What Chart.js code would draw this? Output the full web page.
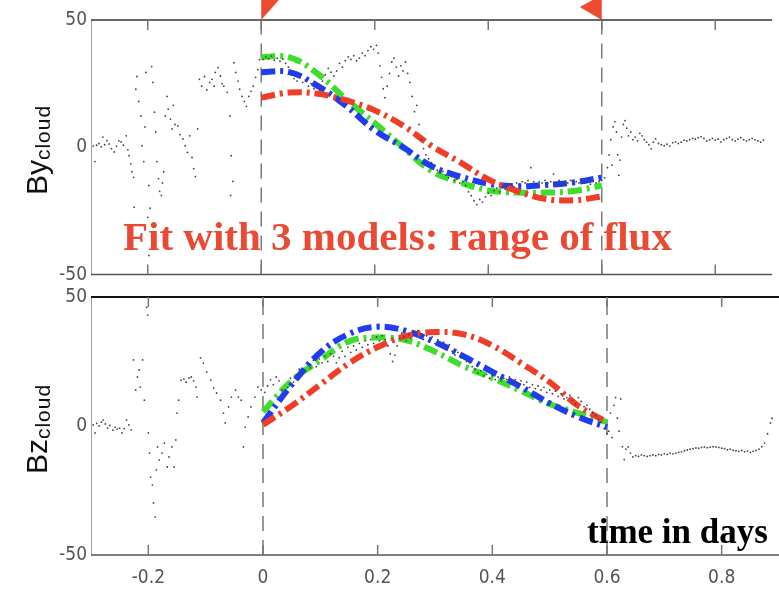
<!DOCTYPE html>
<html>
<head>
<meta charset="utf-8">
<script src="https://cdn.jsdelivr.net/npm/chart.js@4.4.1/dist/chart.umd.min.js"></script>
<style>
html,body{margin:0;padding:0;background:#fff;overflow:hidden;}
#wrap{position:relative;width:779px;height:589px;overflow:hidden;background:#fff;}
canvas{position:absolute;left:0;}
#c1{top:0;}
#c2{top:280px;}
.yt{position:absolute;transform:translate(-50%,-50%) rotate(-90deg);font-family:'Liberation Sans',Arial,sans-serif;font-size:30px;line-height:1;white-space:nowrap;color:#111;}
.yt .sub{font-size:21px;position:relative;top:3px;letter-spacing:1px;}
.note{position:absolute;font-family:'Liberation Serif','Times New Roman',serif;font-weight:bold;line-height:1;white-space:nowrap;}
#fit{left:123px;top:216px;font-size:41px;color:#ea4a33;}
#tid{left:587px;top:514px;font-size:35px;color:#000;}
</style>
</head>
<body>
<div id="wrap">
  <canvas id="c1" width="783" height="290"></canvas>
  <canvas id="c2" width="783" height="309"></canvas>
  <div class="yt" style="left:37px;top:150px">By<span class="sub">cloud</span></div>
  <div class="yt" style="left:37px;top:429px">Bz<span class="sub">cloud</span></div>
  <div class="note" id="fit">Fit with 3 models: range of flux</div>
  <div class="note" id="tid">time in days</div>
</div>
<script>
// ---------------- data ----------------
const xTicks = [-0.2, 0, 0.2, 0.4, 0.6, 0.8];
const yTicks = [-50, 0, 50];
const cloudBounds = [0, 0.6];

const modelTime    = [0, 0.05, 0.1, 0.15, 0.2, 0.25, 0.3, 0.35, 0.4, 0.45, 0.5, 0.55, 0.6];
const byModelRed   = [19.5, 21.5, 21.0, 18.4, 14.5, 8.5, 0.6, -5.8, -12.6, -17.1, -20.2, -20.8, -19.3];
const byModelBlue  = [29.5, 29.5, 24.0, 16.2, 6.7, 0.0, -7.4, -11.4, -14.3, -15.3, -14.8, -13.8, -11.9];
const byModelGreen = [35.5, 35.3, 28.8, 18.8, 9.5, 0.0, -9.3, -13.7, -16.9, -17.8, -17.8, -17.2, -15.0];
const bzModelRed   = [0.5, 7.8, 16.1, 24.3, 30.6, 34.9, 36.4, 35.5, 31.2, 24.4, 17.0, 7.8, 1.5];
const bzModelBlue  = [1.2, 16.0, 28.5, 35.7, 38.5, 36.8, 32.5, 27.0, 21.0, 15.2, 8.8, 3.5, -0.5];
const bzModelGreen = [5.5, 17.5, 25.5, 32.8, 34.3, 33.2, 28.8, 23.2, 18.6, 13.6, 8.5, 5.0, 1.5];

const byObserved = [
[-0.296,0.5],[-0.293,-5.6],[-0.290,0.8],[-0.286,1.5],[-0.282,0.2],[-0.279,4.0],[-0.276,1.0],[-0.272,2.6],[-0.268,1.3],[-0.264,-0.5],
[-0.259,-1.8],[-0.255,0.5],[-0.251,2.5],[-0.247,2.1],[-0.243,0.8],[-0.238,4.5],[-0.235,-1.0],[-0.233,-3.3],[-0.230,-6.5],[-0.228,-9.6],
[-0.225,-11.8],[-0.224,-23.5],[-0.221,22.8],[-0.219,27.8],[-0.216,18.0],[-0.212,12.3],[-0.210,0.6],[-0.207,-5.6],[-0.205,8.0],[-0.203,29.4],
[-0.200,-27.5],[-0.198,-15.0],[-0.198,-42.5],[-0.196,-23.9],[-0.193,31.7],[-0.191,25.5],[-0.188,13.8],[-0.186,6.0],[-0.184,-5.6],[-0.181,-12.3],
[-0.179,-17.3],[-0.176,-18.9],[-0.174,-14.0],[-0.172,-9.6],[-0.169,12.3],[-0.166,20.0],[-0.164,15.0],[-0.160,11.1],[-0.157,7.2],[-0.155,16.5],
[-0.152,9.0],[-0.147,8.4],[-0.143,5.0],[-0.138,3.3],[-0.134,0.6],[-0.130,-2.0],[-0.126,4.5],[-0.122,-4.0],[-0.119,-8.4],[-0.116,-11.5],
[-0.112,7.2],[-0.109,26.7],[-0.105,24.0],[-0.100,27.8],[-0.096,22.5],[-0.091,25.5],[-0.087,26.7],[-0.083,24.0],[-0.081,29.4],[-0.076,31.3],
[-0.072,28.0],[-0.069,25.0],[-0.066,24.0],[-0.060,21.6],[-0.055,12.3],[-0.054,-18.9],[-0.053,-3.3],[-0.050,-13.4],[-0.048,33.2],[-0.045,29.4],
[-0.041,26.0],[-0.038,22.8],[-0.034,20.0],[-0.030,18.0],[-0.026,16.1],[-0.022,20.0],[-0.018,22.0],[-0.014,24.0],[-0.010,27.5],[-0.006,30.5],
[-0.003,34.4],
[0.003,34.5],[0.008,35.5],[0.013,34.8],[0.018,35.8],[0.023,34.2],[0.028,35.0],[0.033,33.8],[0.038,34.6],[0.043,33.0],[0.048,31.5],
[0.053,28.5],[0.058,27.0],[0.063,26.0],[0.068,27.5],[0.073,25.5],[0.078,26.5],[0.083,24.0],[0.088,25.0],[0.093,23.0],[0.098,24.5],
[0.103,22.5],[0.108,26.0],[0.113,28.5],[0.118,31.0],[0.123,29.5],[0.128,28.0],[0.133,30.0],[0.138,33.0],[0.143,31.5],[0.148,34.0],
[0.153,35.5],[0.158,34.5],[0.163,36.0],[0.168,34.0],[0.173,35.0],[0.178,37.0],[0.183,36.0],[0.188,38.0],[0.193,39.5],[0.198,38.5],
[0.203,40.0],[0.206,37.0],[0.209,32.0],[0.212,27.5],[0.215,23.0],[0.218,19.5],[0.222,24.0],[0.226,29.0],[0.230,33.5],[0.234,35.0],
[0.238,31.5],[0.242,28.0],[0.246,32.0],[0.250,30.0],[0.254,33.5],[0.258,29.0],[0.262,25.5],[0.266,20.0],[0.270,14.0],[0.274,16.5],
[0.278,9.0],[0.282,3.0],[0.286,-0.5],[0.290,-3.0],[0.295,-4.5],[0.300,-6.0],[0.305,-7.5],[0.310,-9.0],[0.315,-10.0],[0.320,-9.5],
[0.325,-11.0],[0.330,-12.0],[0.335,-11.5],[0.340,-13.0],[0.345,-12.5],[0.350,-14.0],[0.355,-13.5],[0.360,-15.0],[0.365,-17.5],[0.370,-19.0],
[0.375,-21.0],[0.380,-22.5],[0.385,-20.5],[0.390,-21.5],[0.395,-19.5],[0.400,-18.0],[0.405,-19.0],[0.410,-17.0],[0.415,-16.0],[0.420,-17.5],
[0.425,-15.5],[0.430,-16.5],[0.435,-15.0],[0.440,-14.5],[0.445,-15.5],[0.450,-14.0],[0.455,-14.5],[0.460,-13.5],[0.465,-14.0],[0.470,-13.0],
[0.475,-8.0],[0.480,-13.5],[0.485,-14.5],[0.490,-13.5],[0.495,-14.0],[0.500,-13.0],[0.505,-14.0],[0.510,-13.5],[0.515,-10.5],[0.520,-14.0],
[0.525,-13.0],[0.530,-14.5],[0.535,-13.5],[0.540,-14.0],[0.545,-13.0],[0.550,-14.5],[0.555,-13.5],[0.560,-14.0],[0.565,-13.0],[0.570,-14.0],
[0.575,-13.5],[0.580,-14.5],[0.585,-13.0],[0.590,-14.0],[0.595,-13.5],[0.600,-13.0],
[0.605,-12.0],[0.610,-8.0],[0.613,-3.0],[0.616,3.0],[0.618,-7.0],[0.620,8.0],[0.623,10.0],[0.626,6.0],[0.628,-3.0],[0.630,-11.0],
[0.632,-5.0],[0.635,4.0],[0.638,9.0],[0.641,10.5],[0.644,7.5],[0.647,4.5],[0.651,6.0],[0.655,3.0],[0.659,4.0],[0.663,2.5],
[0.667,5.5],[0.671,4.5],[0.675,3.0],[0.679,2.0],[0.683,1.0],[0.687,-0.6],[0.691,2.0],[0.695,3.3],[0.700,1.5],[0.705,1.0],
[0.710,0.6],[0.715,1.2],[0.720,0.5],[0.725,1.8],[0.730,2.1],[0.735,1.5],[0.740,2.0],[0.745,2.8],[0.750,2.5],[0.755,3.0],
[0.760,3.5],[0.765,3.2],[0.770,3.8],[0.775,4.1],[0.780,3.5],[0.785,2.5],[0.790,3.0],[0.795,3.5],[0.800,2.8],[0.805,3.2],
[0.810,2.1],[0.815,3.0],[0.820,3.5],[0.825,4.0],[0.830,3.0],[0.835,2.5],[0.840,3.2],[0.845,3.8],[0.850,3.0],[0.855,2.5],
[0.860,3.0],[0.865,3.5],[0.870,3.0],[0.875,2.5],[0.880,2.0],[0.885,2.8]
];

const bzObserved = [
[-0.296,0.4],[-0.293,-2.7],[-0.290,1.0],[-0.286,0.0],[-0.282,1.5],[-0.279,2.3],[-0.275,0.8],[-0.271,-0.8],[-0.267,0.2],[-0.262,-1.6],
[-0.258,-0.5],[-0.254,-1.2],[-0.250,-0.8],[-0.246,-2.7],[-0.242,-1.0],[-0.238,2.3],[-0.234,0.4],[-0.230,-1.5],[-0.226,25.6],[-0.222,14.0],
[-0.219,19.0],[-0.216,21.7],[-0.214,15.1],[-0.210,25.6],[-0.207,10.0],[-0.203,46.0],[-0.201,43.0],[-0.200,-2.7],[-0.198,-10.5],[-0.196,-19.8],
[-0.193,-22.9],[-0.191,-29.8],[-0.188,-35.3],[-0.186,-17.0],[-0.184,-8.1],[-0.181,-13.2],[-0.176,-10.5],[-0.172,-6.6],[-0.167,-15.9],[-0.164,-12.0],
[-0.159,-8.1],[-0.155,-15.9],[-0.152,-5.4],[-0.150,5.0],[-0.147,10.0],[-0.143,17.8],[-0.138,18.2],[-0.134,17.0],[-0.129,18.6],[-0.125,19.0],
[-0.121,17.5],[-0.117,15.1],[-0.115,11.2],[-0.109,26.4],[-0.104,24.4],[-0.098,20.9],[-0.091,17.8],[-0.086,14.7],[-0.081,12.8],[-0.074,10.0],
[-0.069,5.0],[-0.066,1.2],[-0.060,7.4],[-0.055,11.2],[-0.048,14.0],[-0.043,11.2],[-0.038,10.0],[-0.034,-8.1],[-0.031,-0.4],[-0.026,3.5],
[-0.021,7.4],[-0.014,11.2],[-0.009,15.1],[-0.003,14.0],
[0.003,13.0],[0.008,15.5],[0.013,18.0],[0.018,16.0],[0.023,19.0],[0.028,17.5],[0.033,14.0],[0.038,12.0],[0.043,15.0],[0.048,18.5],
[0.053,17.0],[0.058,20.0],[0.063,22.0],[0.068,19.5],[0.073,21.5],[0.078,24.0],[0.083,22.5],[0.088,25.5],[0.093,23.0],[0.098,26.0],
[0.103,24.5],[0.108,27.0],[0.113,25.0],[0.118,28.0],[0.123,27.0],[0.128,24.5],[0.133,26.5],[0.138,29.0],[0.143,27.0],[0.148,30.5],
[0.153,28.5],[0.158,31.0],[0.163,29.5],[0.168,32.0],[0.173,30.5],[0.178,33.0],[0.183,31.5],[0.188,33.5],[0.193,32.0],[0.198,34.5],
[0.203,33.0],[0.208,35.0],[0.213,33.5],[0.218,31.0],[0.222,28.0],[0.226,25.0],[0.230,27.5],[0.234,31.0],[0.238,34.0],[0.242,36.0],
[0.246,34.5],[0.250,33.0],[0.254,35.5],[0.258,34.0],[0.262,36.5],[0.266,35.0],[0.270,37.0],[0.275,35.5],[0.280,33.5],[0.285,35.0],
[0.290,33.0],[0.295,34.5],[0.300,32.0],[0.305,33.5],[0.310,31.0],[0.315,32.5],[0.320,30.0],[0.325,31.5],[0.330,29.0],[0.335,27.5],
[0.340,28.5],[0.345,26.5],[0.350,27.0],[0.355,25.0],[0.360,24.5],[0.365,23.0],[0.370,22.0],[0.375,20.5],[0.380,21.5],[0.385,19.5],
[0.390,20.0],[0.395,18.5],[0.400,19.5],[0.405,18.0],[0.410,19.0],[0.415,17.5],[0.420,18.5],[0.425,18.0],[0.430,19.0],[0.435,17.0],
[0.440,18.0],[0.445,16.5],[0.450,17.5],[0.455,16.0],[0.460,17.0],[0.465,15.0],[0.470,16.0],[0.475,14.5],[0.480,15.5],[0.485,14.0],
[0.490,15.0],[0.495,13.0],[0.500,14.0],[0.505,12.5],[0.510,13.5],[0.515,11.5],[0.520,12.5],[0.525,10.5],[0.530,11.0],[0.535,12.0],
[0.540,10.0],[0.545,8.5],[0.550,11.0],[0.555,9.5],[0.560,7.5],[0.565,8.0],[0.570,6.5],[0.575,5.0],[0.580,4.0],[0.585,2.5],
[0.590,1.5],[0.595,-1.0],[0.600,-3.0],
[0.603,-2.0],[0.606,5.0],[0.609,-4.5],[0.612,8.0],[0.615,11.0],[0.618,3.0],[0.621,-2.0],[0.624,10.5],[0.627,-8.0],[0.630,-13.0],
[0.633,-9.0],[0.637,-8.1],[0.641,-10.5],[0.645,-12.0],[0.650,-11.5],[0.655,-11.8],[0.660,-11.2],[0.665,-11.5],[0.670,-11.8],[0.675,-11.5],
[0.680,-11.2],[0.685,-11.5],[0.690,-11.0],[0.695,-11.2],[0.700,-10.8],[0.705,-11.0],[0.710,-10.5],[0.715,-10.8],[0.720,-10.5],[0.725,-10.2],
[0.730,-10.0],[0.735,-9.6],[0.740,-9.3],[0.745,-9.0],[0.750,-8.8],[0.755,-8.5],[0.760,-8.6],[0.765,-8.3],[0.770,-8.1],[0.775,-8.4],
[0.780,-8.2],[0.785,-8.0],[0.790,-8.1],[0.795,-8.3],[0.800,-8.6],[0.805,-8.8],[0.810,-9.2],[0.815,-9.0],[0.820,-9.4],[0.825,-9.6],
[0.830,-9.8],[0.835,-9.5],[0.840,-10.0],[0.845,-9.7],[0.850,-10.2],[0.855,-9.8],[0.860,-9.5],[0.865,-9.0],[0.870,-8.0],[0.875,-6.6],
[0.880,-3.0],[0.885,1.2],[0.888,3.0]
];

// ---------------- styling ----------------
const X_MIN = -0.3, X_MAX = 0.9, Y_MIN = -50, Y_MAX = 50;
const RED = '#ef3d27', BLUE = '#1f3cf0', GREEN = '#3ede2c', MARK = '#ee4a30';

// pick a condensed face for the tick labels if one is installed
function pickTickFont() {
  const g = document.createElement('canvas').getContext('2d');
  const probe = '0123456789.-';
  g.font = '20px monospace'; const wMono = g.measureText(probe).width;
  g.font = "20px 'Liberation Sans Narrow', monospace"; const wNarrow = g.measureText(probe).width;
  if (Math.abs(wNarrow - wMono) > 0.5) return { family: "'Liberation Sans Narrow'", stretch: 'normal', size: 21 };
  g.font = "20px 'DejaVu Sans'"; g.fontStretch = 'normal'; const wN = g.measureText(probe).width;
  g.fontStretch = 'condensed'; const wC = g.measureText(probe).width;
  if (wC < wN - 2) return { family: "'DejaVu Sans'", stretch: 'condensed', size: 19 };
  g.fontStretch = 'normal';
  g.font = "20px 'DejaVu Sans Condensed', monospace"; const wDC = g.measureText(probe).width;
  if (Math.abs(wDC - wMono) > 0.5) return { family: "'DejaVu Sans Condensed'", stretch: 'normal', size: 19 };
  return { family: "'Liberation Sans'", stretch: 'normal', size: 20 };
}
const tickFace = pickTickFont();
const tickFont = { family: tickFace.family, size: tickFace.size };

function arrowImage(pointRight) {
  const c = document.createElement('canvas');
  c.width = 48; c.height = 50;
  const g = c.getContext('2d');
  g.fillStyle = MARK;
  g.beginPath();
  if (pointRight) { g.moveTo(24, 0); g.lineTo(46, 0); g.lineTo(24, 25); }
  else { g.moveTo(24, 0); g.lineTo(2, 12); g.lineTo(24, 25); }
  g.closePath(); g.fill();
  return c;
}
const arrowImgs = [arrowImage(true), arrowImage(false)];

const framePlugin = {
  id: 'frame',
  beforeDraw(chart) {
    if ('fontStretch' in chart.ctx) chart.ctx.fontStretch = tickFace.stretch;
  },
  afterDatasetsDraw(chart, args, opts) {
    const { ctx, chartArea: a, scales } = chart;
    ctx.save();
    ctx.lineCap = 'butt';
    ctx.strokeStyle = '#a0a0a0'; ctx.lineWidth = 1;
    ctx.beginPath(); ctx.moveTo(a.left + 0.5, a.top); ctx.lineTo(a.left + 0.5, a.bottom); ctx.stroke();
    ctx.strokeStyle = opts.topColor; ctx.lineWidth = opts.topWidth;
    ctx.beginPath(); ctx.moveTo(a.left, a.top); ctx.lineTo(a.right, a.top); ctx.stroke();
    ctx.strokeStyle = '#555'; ctx.lineWidth = 1.5;
    ctx.beginPath(); ctx.moveTo(a.left, a.bottom); ctx.lineTo(a.right, a.bottom); ctx.stroke();
    ctx.strokeStyle = '#777'; ctx.lineWidth = 1.5;
    xTicks.forEach(v => {
      const px = scales.x.getPixelForValue(v);
      ctx.beginPath();
      ctx.moveTo(px, a.top); ctx.lineTo(px, a.top + 10);
      ctx.moveTo(px, a.bottom); ctx.lineTo(px, a.bottom - 10);
      ctx.stroke();
    });
    ctx.restore();
  }
};

function modelDataset(values, color, order) {
  return {
    data: modelTime.map((t, i) => ({ x: t, y: values[i] })),
    showLine: true, pointRadius: 0, borderColor: color, borderWidth: 6,
    borderDash: [14, 5, 3, 5], tension: 0.4, order: order, borderCapStyle: 'butt'
  };
}

function makeChart(id, observed, red, blue, green, opts) {
  const datasets = [];
  datasets.push({
    data: observed.map(p => ({ x: p[0], y: p[1] })),
    pointRadius: 0.9, pointBorderWidth: 0, backgroundColor: '#444', borderColor: '#444', order: 0
  });
  datasets.push(modelDataset(red, RED, 1));
  datasets.push(modelDataset(blue, BLUE, 2));
  datasets.push(modelDataset(green, GREEN, 3));
  cloudBounds.forEach(b => datasets.push({
    data: [{ x: b, y: Y_MIN }, { x: b, y: Y_MAX }],
    showLine: true, pointRadius: 0, borderColor: '#7a7a7a', borderWidth: 1.5, borderDash: [15, 9], order: 6
  }));
  if (opts.markers) {
    datasets.push({
      data: cloudBounds.map(b => ({ x: b, y: Y_MAX })),
      pointStyle: arrowImgs, pointRadius: 10, clip: false, order: -1
    });
  }
  return new Chart(document.getElementById(id), {
    type: 'scatter',
    data: { datasets },
    options: {
      responsive: false, animation: false, events: [],
      layout: { padding: { top: opts.padTop, right: 2, bottom: 0, left: 0 } },
      plugins: { legend: { display: false }, tooltip: { enabled: false },
                 frame: { topColor: opts.topColor, topWidth: opts.topWidth } },
      scales: {
        x: {
          type: 'linear', min: X_MIN, max: X_MAX,
          afterBuildTicks: s => { s.ticks = xTicks.map(v => ({ value: v })); },
          afterFit: s => { s.height = opts.xHeight; },
          grid: { display: false, drawTicks: false }, border: { display: false },
          ticks: { display: opts.xLabels, padding: 12, font: tickFont, color: '#555',
                   autoSkip: false, maxRotation: 0, callback: v => String(v) }
        },
        y: {
          type: 'linear', min: Y_MIN, max: Y_MAX,
          afterBuildTicks: s => { s.ticks = yTicks.map(v => ({ value: v })); },
          afterFit: s => { s.width = 91; },
          grid: { display: false, drawTicks: false }, border: { display: false },
          ticks: { padding: 4, font: tickFont, color: '#555', callback: v => String(v) }
        }
      }
    },
    plugins: [framePlugin]
  });
}

makeChart('c1', byObserved, byModelRed, byModelBlue, byModelGreen,
  { padTop: 20, xHeight: 13, xLabels: false, markers: true, topColor: '#333', topWidth: 1.5 });
makeChart('c2', bzObserved, bzModelRed, bzModelBlue, bzModelGreen,
  { padTop: 17, xHeight: 34, xLabels: true, markers: false, topColor: '#111', topWidth: 2 });
</script>
</body>
</html>
